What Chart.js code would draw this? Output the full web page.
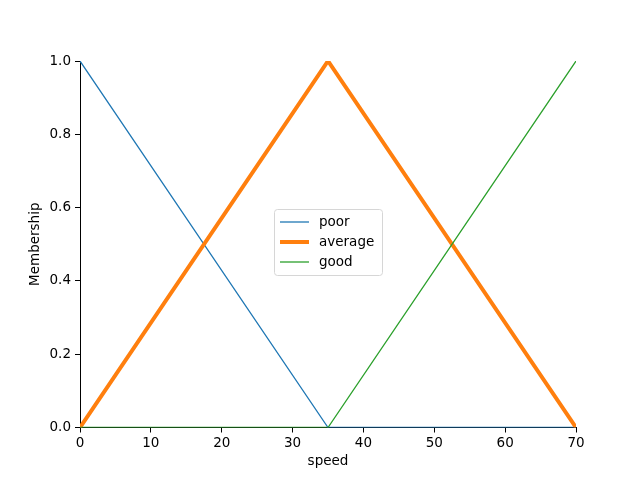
<!DOCTYPE html>
<html>
<head>
  <title>Speed membership</title>
  <script src="https://cdn.jsdelivr.net/npm/chart.js"></script>
  <style>
    body {
      margin: 0;
      background: #ffffff;
    }
  </style>
</head>
<body>
  <canvas id="mfChart" width="640" height="480"></canvas>

  <script>
    // speed breakpoints and membership values per term
    const speedPoints = [0, 35, 70];
    const poorValues = [1, 0, 0];
    const averageValues = [0, 1, 0];
    const goodValues = [0, 0, 1];
    const termLabels = ['poor', 'average', 'good'];
    const xTicks = [0, 10, 20, 30, 40, 50, 60, 70];
    const yTicks = [0.0, 0.2, 0.4, 0.6, 0.8, 1.0];

    const tickFont = { family: 'DejaVu Sans', size: 13.5 };

    function toPoints(values) {
      return speedPoints.map((x, i) => ({ x: x, y: values[i] }));
    }

    // legend box in the middle of the plot, matplotlib style
    const centerLegend = {
      id: 'centerLegend',
      afterDraw(chart) {
        const ctx = chart.ctx;
        const left = 274.5, top = 209.5, w = 108, h = 66;
        ctx.save();
        ctx.fillStyle = 'rgba(255,255,255,0.8)';
        ctx.strokeStyle = '#d6d6d6';
        ctx.lineWidth = 1;
        ctx.beginPath();
        ctx.roundRect(left, top, w, h, 3);
        ctx.fill();
        ctx.stroke();
        ctx.font = '13.5px DejaVu Sans';
        ctx.textBaseline = 'middle';
        chart.data.datasets.forEach((ds, i) => {
          const y = 222 + i * 20;
          ctx.strokeStyle = ds.borderColor;
          ctx.lineWidth = ds.borderWidth;
          ctx.beginPath();
          ctx.moveTo(280, y);
          ctx.lineTo(309, y);
          ctx.stroke();
          ctx.fillStyle = '#000';
          ctx.fillText(ds.label, 319, y);
        });
        ctx.restore();
      }
    };

    const ctx = document.getElementById('mfChart').getContext('2d');
    new Chart(ctx, {
      type: 'line',
      data: {
        datasets: [
          { label: termLabels[0], data: toPoints(poorValues), borderColor: '#1f77b4', borderWidth: 1.3, order: 3 },
          { label: termLabels[1], data: toPoints(averageValues), borderColor: '#ff7f0e', borderWidth: 4, order: 2 },
          { label: termLabels[2], data: toPoints(goodValues), borderColor: '#2ca02c', borderWidth: 1.3, order: 1 }
        ]
      },
      options: {
        responsive: false,
        animation: false,
        elements: {
          point: { radius: 0 },
          line: { tension: 0, fill: false }
        },
        layout: {
          padding: { top: 61, right: 64, left: 0, bottom: 0 }
        },
        plugins: {
          legend: { display: false },
          tooltip: { enabled: false }
        },
        scales: {
          x: {
            type: 'linear',
            min: 0,
            max: 70,
            afterBuildTicks(scale) {
              scale.ticks = xTicks.map(v => ({ value: v }));
            },
            afterFit(scale) { scale.height = 52.5; },
            grid: {
              drawOnChartArea: false,
              drawTicks: true,
              tickLength: 5,
              tickColor: '#000'
            },
            border: { color: '#000', width: 1 },
            ticks: { color: '#000', font: tickFont, padding: 3, maxRotation: 0 },
            title: {
              display: true,
              text: 'speed',
              color: '#000',
              font: tickFont,
              padding: { top: 2, bottom: 10 }
            }
          },
          y: {
            type: 'linear',
            min: 0,
            max: 1,
            afterBuildTicks(scale) {
              scale.ticks = yTicks.map(v => ({ value: v }));
            },
            afterFit(scale) { scale.width = 80; },
            grid: {
              drawOnChartArea: false,
              drawTicks: true,
              tickLength: 5,
              tickColor: '#000'
            },
            border: { color: '#000', width: 1 },
            ticks: {
              color: '#000',
              font: tickFont,
              padding: 4,
              callback: v => v.toFixed(1)
            },
            title: {
              display: true,
              text: 'Membership',
              color: '#000',
              font: tickFont,
              padding: { top: 27, bottom: 4 }
            }
          }
        }
      },
      plugins: [centerLegend]
    });
  </script>
</body>
</html>
